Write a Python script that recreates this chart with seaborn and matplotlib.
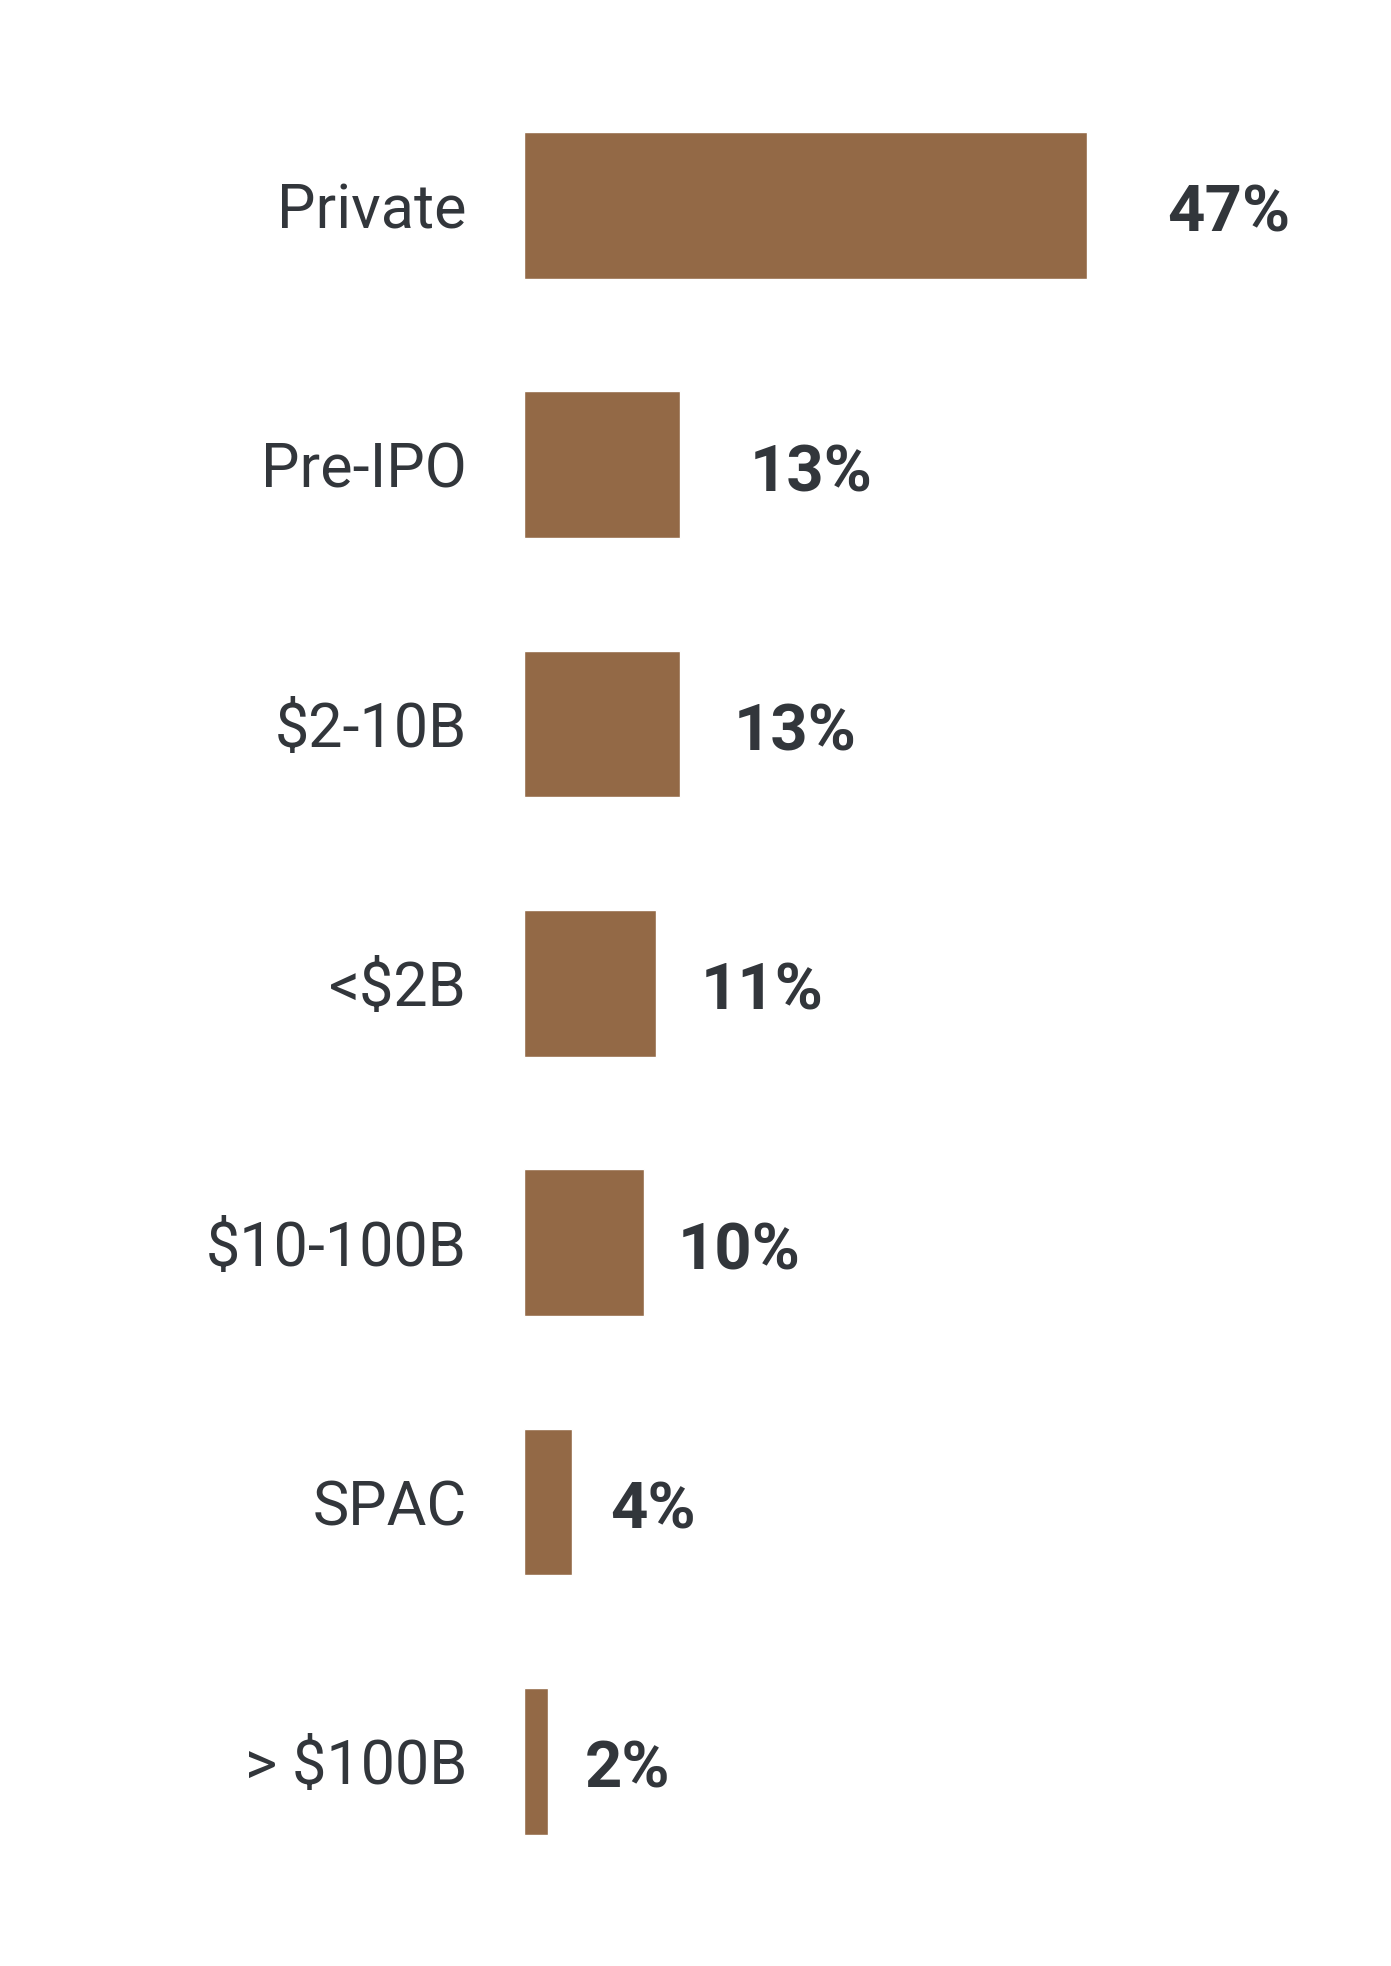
import matplotlib
matplotlib.use("Agg")
import matplotlib.pyplot as plt
import seaborn as sns
import pandas as pd

categories = ["Private", "Pre-IPO", "$2-10B", "<$2B", "$10-100B", "SPAC", "> $100B"]
values = [47, 13, 13, 11, 10, 4, 2]
value_labels = ["47%", "13%", "13%", "11%", "10%", "4%", "2%"]

# label offsets (px) from bar end, as in the reference
label_offsets_px = [80, 70, 54, 45, 34, 38, 37]

BAR_COLOR = "#936946"
TEXT_COLOR = "#32363B"

sns.set_theme(style="white")
plt.rcParams["font.family"] = ["Roboto", "DejaVu Sans"]

df = pd.DataFrame({"category": categories, "value": values})

fig = plt.figure(figsize=(13.91, 19.66), dpi=100)
ax = fig.add_axes([524 / 1391, 0.0381, 1 - 524 / 1391, 0.9235])

sns.barplot(data=df, x="value", y="category", orient="h", color=BAR_COLOR,
            saturation=1, width=0.566, ax=ax, order=categories)

px_per_unit = 563.2 / 47
ax.set_xlim(0, 867 / px_per_unit)
ax.set_ylim(len(categories) - 0.5, -0.5)

for i, (v, lab, off) in enumerate(zip(values, value_labels, label_offsets_px)):
    ax.annotate(lab, xy=(v, i), xytext=(off * 72 / 100, -9 * 72 / 100),
                textcoords="offset points", ha="left", va="center",
                fontsize=47, fontweight="bold", color=TEXT_COLOR)

ax.set_xlabel("")
ax.set_ylabel("")
ax.set_xticks([])
ax.tick_params(axis="y", length=0, pad=57 * 72 / 100, labelsize=44, labelcolor=TEXT_COLOR)
for s in ax.spines.values():
    s.set_visible(False)
ax.set_facecolor("white")
fig.patch.set_facecolor("white")

fig.savefig("out.png", dpi=100, facecolor="white")
